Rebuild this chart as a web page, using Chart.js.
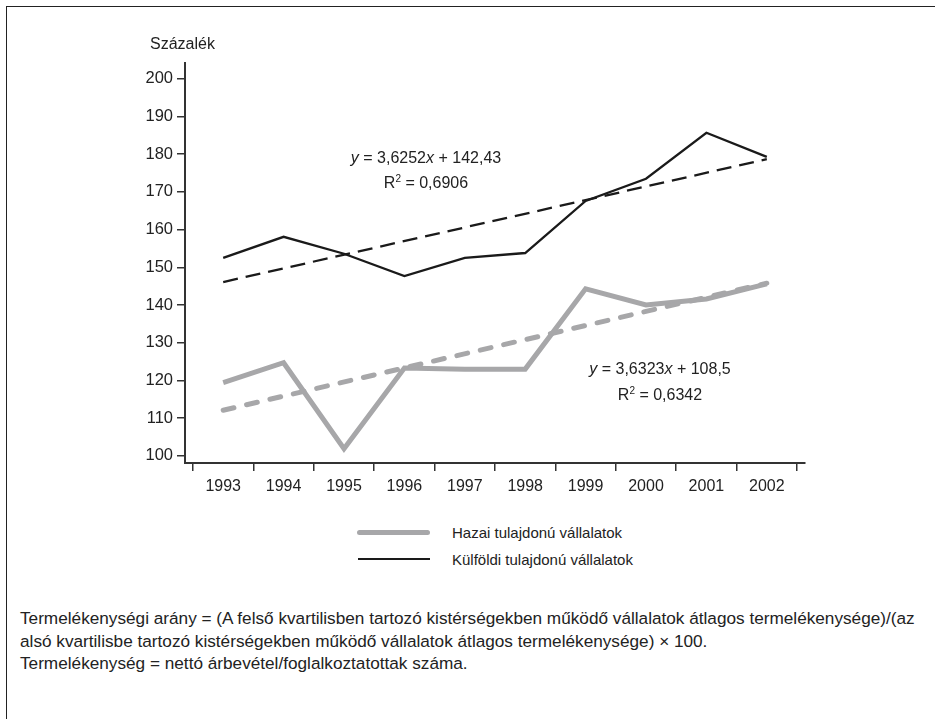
<!DOCTYPE html>
<html>
<head>
<meta charset="utf-8">
<script src="https://cdn.jsdelivr.net/npm/chart.js@4.4.0/dist/chart.umd.min.js"></script>
<style>
  html, body { margin: 0; padding: 0; background: #fff; }
  body { width: 935px; height: 719px; position: relative; overflow: hidden;
         font-family: "Liberation Sans", Arial, sans-serif; color: #222; }
  #frameTop { position: absolute; left: 6px; top: 6px; width: 929px; height: 0; border-top: 1.5px solid #222; }
  #frameLeft { position: absolute; left: 6px; top: 6px; width: 0; height: 713px; border-left: 1.5px solid #222; }
  #chart { position: absolute; left: 0; top: 0; }
  .t { position: absolute; white-space: nowrap; font-size: 16px; line-height: 18px; }
  .c { transform: translateX(-50%); }
  sup { font-size: 10px; vertical-align: 6px; line-height: 0; }
  .leg { position: absolute; height: 0; }
  .lt { font-size: 15px; }
  #foot { position: absolute; left: 20px; top: 607px; font-size: 17.2px; line-height: 22.5px; white-space: nowrap; }
</style>
</head>
<body>
<div id="frameTop"></div>
<div id="frameLeft"></div>
<canvas id="chart" width="935" height="500"></canvas>

<div class="t" style="left:150px; top:35px;">Százalék</div>

<div class="t c" style="left:426px; top:149px;"><i>y</i> = 3,6252<i>x</i> + 142,43</div>
<div class="t c" style="left:426px; top:174px;">R<sup>2</sup> = 0,6906</div>
<div class="t c" style="left:660px; top:360px;"><i>y</i> = 3,6323<i>x</i> + 108,5</div>
<div class="t c" style="left:660px; top:386px;">R<sup>2</sup> = 0,6342</div>

<div class="leg" style="left:357px; top:530px; width:73px; border-top:5px solid #a7a7a9; border-radius:3px;"></div>
<div class="t lt" style="left:452px; top:524px;">Hazai tulajdonú vállalatok</div>
<div class="leg" style="left:358px; top:558px; width:72px; border-top:2px solid #1a1a1a;"></div>
<div class="t lt" style="left:452px; top:551px;">Külföldi tulajdonú vállalatok</div>

<div id="foot">Termelékenységi arány = (A felső kvartilisben tartozó kistérségekben működő vállalatok átlagos termelékenysége)/(az<br>alsó kvartilisbe tartozó kistérségekben működő vállalatok átlagos termelékenysége) × 100.<br>Termelékenység = nettó árbevétel/foglalkoztatottak száma.</div>

<script>
// ---- data ----
const years = ['1993','1994','1995','1996','1997','1998','1999','2000','2001','2002'];
const domestic = [119.4, 124.7, 101.9, 123.3, 123.0, 123.0, 144.3, 140.0, 141.6, 145.6];
const foreign  = [152.5, 158.1, 153.6, 147.7, 152.5, 153.8, 167.6, 173.5, 185.7, 179.3];
// trend line values at first and last year
const trendDomesticEnds = [112.1, 145.8];
const trendForeignEnds  = [146.1, 178.7];
const yTickValues = [100, 110, 120, 130, 140, 150, 160, 170, 180, 190, 200];

const toXY = arr => arr.map((v, i) => ({ x: i + 1, y: v }));
const ends = e => [{ x: 1, y: e[0] }, { x: years.length, y: e[1] }];

const gray = '#a7a7a9';
const black = '#1a1a1a';
const axisCol = '#333';
const fontFam = '"Liberation Sans", Arial, sans-serif';

const xTicks = [];
for (let i = 0; i <= years.length; i++) { xTicks.push(i + 0.5); if (i < years.length) xTicks.push(i + 1); }

new Chart(document.getElementById('chart'), {
  type: 'line',
  data: {
    datasets: [
      { data: toXY(foreign), borderColor: black, borderWidth: 2.3, pointRadius: 0, order: 1, tension: 0 },
      { data: ends(trendForeignEnds), borderColor: black, borderWidth: 2.3, borderDash: [15, 8], pointRadius: 0, order: 2 },
      { data: ends(trendDomesticEnds), borderColor: gray, borderWidth: 5, borderDash: [11, 13], borderCapStyle: 'round', pointRadius: 0, order: 3 },
      { data: toXY(domestic), borderColor: gray, borderWidth: 5, pointRadius: 0, order: 4, borderJoinStyle: 'miter' }
    ]
  },
  options: {
    responsive: false,
    animation: false,
    events: [],
    layout: { padding: { left: 0, top: 63, right: 130, bottom: 0 } },
    plugins: { legend: { display: false }, tooltip: { enabled: false } },
    scales: {
      x: {
        type: 'linear',
        min: 0.3675, max: 10.6325,
        afterBuildTicks: s => { s.ticks = xTicks.map(v => ({ value: v })); },
        afterFit: s => { s.height = 37; },
        ticks: {
          autoSkip: false, maxRotation: 0, padding: 6,
          color: '#222', font: { family: fontFam, size: 16 },
          callback: v => (Number.isInteger(v) ? years[v - 1] : '')
        },
        grid: {
          drawOnChartArea: false, drawTicks: true, tickLength: 8, lineWidth: 1.5,
          color: c => (c.tick && Number.isInteger(c.tick.value) ? 'rgba(0,0,0,0)' : axisCol)
        },
        border: { display: true, color: axisCol, width: 2 }
      },
      y: {
        min: 98.1, max: 204.2,
        afterBuildTicks: s => { s.ticks = yTickValues.map(v => ({ value: v })); },
        afterFit: s => { s.width = 185; },
        ticks: { padding: 4, color: '#222', font: { family: fontFam, size: 16.5 } },
        grid: { drawOnChartArea: false, drawTicks: true, tickLength: 8, lineWidth: 1.5, color: axisCol },
        border: { display: true, color: axisCol, width: 2 }
      }
    }
  }
});
</script>
</body>
</html>
